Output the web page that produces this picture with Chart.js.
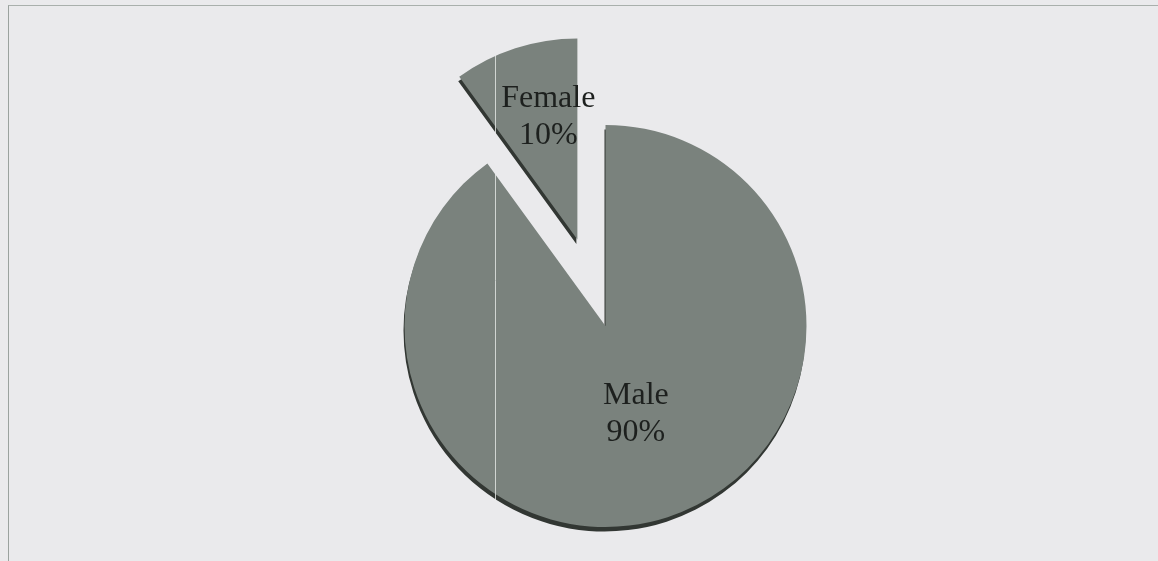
<!DOCTYPE html>
<html>
<head>
<meta charset="utf-8">
<script src="https://cdn.jsdelivr.net/npm/chart.js@4.4.1/dist/chart.umd.min.js"></script>
<style>
  html, body { margin: 0; padding: 0; background: #eaeaec; width: 1158px; height: 561px; overflow: hidden; }
  #wrap { position: relative; width: 1158px; height: 561px; }
  #frame { position: absolute; left: 8px; top: 5px; right: -2px; bottom: -2px;
           border-left: 1px solid #9aa29e; border-top: 1px solid #a9b0ac; }
  canvas { position: absolute; left: 0; top: 0; }
</style>
</head>
<body>
<div id="wrap">
  <div id="frame"></div>
  <canvas id="c" width="1158" height="561"></canvas>
</div>
<script>
// ---- data ----
const categories = ['Male', 'Female'];
const percentages = [90, 10];
// ---- styling ----
const explodePx = [0, 91];            // slice pull-out distance in pixels
const labelRadiusFrac = [0.465, 0.625];
const labelAngleShiftDeg = [-1, 4.6];

const sliceColor = '#7a827d';

const explodePlugin = {
  id: 'explodeSlices',
  afterDatasetsUpdate(chart) {
    const meta = chart.getDatasetMeta(0);
    meta.data.forEach((arc, i) => {
      const d = explodePx[i] || 0;
      if (!d) return;
      const half = (arc.startAngle + arc.endAngle) / 2;
      arc.x += Math.cos(half) * d;
      arc.y += Math.sin(half) * d;
    });
  }
};

const labelPlugin = {
  id: 'sliceLabels',
  beforeDatasetsDraw(chart) {
    const ctx = chart.ctx;
    ctx.save();
    ctx.shadowColor = '#323733';
    ctx.shadowBlur = 0;
    ctx.shadowOffsetX = -1;
    ctx.shadowOffsetY = 4.5;
  },
  afterDatasetsDraw(chart) {
    const ctx = chart.ctx;
    ctx.restore();
    // faint scan line artifact, drawn only over slices
    ctx.save();
    ctx.globalCompositeOperation = 'source-atop';
    ctx.strokeStyle = 'rgba(225,228,226,0.85)';
    ctx.lineWidth = 1;
    ctx.beginPath();
    ctx.moveTo(495.5, 0);
    ctx.lineTo(495.5, 561);
    ctx.stroke();
    ctx.restore();

    const meta = chart.getDatasetMeta(0);
    ctx.save();
    ctx.fillStyle = '#1d201e';
    ctx.font = '32px "Liberation Serif", "DejaVu Serif", serif';
    ctx.textAlign = 'center';
    ctx.textBaseline = 'middle';
    meta.data.forEach((arc, i) => {
      const half = (arc.startAngle + arc.endAngle) / 2 + labelAngleShiftDeg[i] * Math.PI / 180;
      const r = arc.outerRadius * labelRadiusFrac[i];
      const lx = arc.x + Math.cos(half) * r;
      const ly = arc.y + Math.sin(half) * r;
      ctx.fillText(categories[i], lx, ly - 18.5);
      ctx.fillText(percentages[i] + '%', lx, ly + 18.5);
    });
    ctx.restore();
  }
};

new Chart(document.getElementById('c'), {
  type: 'pie',
  data: {
    labels: categories,
    datasets: [{
      data: percentages,
      backgroundColor: [sliceColor, sliceColor],
      borderWidth: 0,
      radius: 201
    }]
  },
  options: {
    responsive: false,
    animation: false,
    events: [],
    layout: { padding: { left: 53, right: 0, top: 91, bottom: 0 } },
    plugins: { legend: { display: false }, tooltip: { enabled: false } }
  },
  plugins: [explodePlugin, labelPlugin]
});
</script>
</body>
</html>
